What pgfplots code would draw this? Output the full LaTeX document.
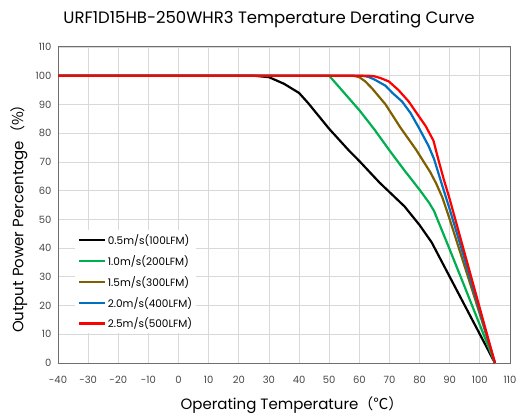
\documentclass[border=0pt]{standalone}
\usepackage{pgfplots}
\pgfplotsset{compat=1.18}
\usepackage{fontspec}
\setmainfont{Poppins}
\newfontfamily\cjk{Noto Sans CJK SC}
\definecolor{cgreen}{RGB}{0,176,80}
\definecolor{cbrown}{RGB}{127,96,0}
\definecolor{cblue}{RGB}{0,112,192}
\definecolor{cred}{RGB}{255,0,0}
\definecolor{gridgray}{RGB}{217,217,217}
\definecolor{axisgray}{RGB}{110,110,110}
\definecolor{labelgray}{RGB}{70,70,70}
\begin{document}
\begin{tikzpicture}
\useasboundingbox (0pt,0pt) rectangle (522pt,418pt);
\begin{axis}[
  at={(58pt,55pt)}, anchor=south west,
  scale only axis, width=452pt, height=316pt,
  xmin=-40, xmax=110, ymin=0, ymax=110,
  xtick={-40,-30,...,110}, ytick={0,10,...,110},
  grid=major, grid style={color=gridgray, line width=0.8pt},
  axis line style={color=axisgray, line width=1pt},
  major tick length=0pt,
  tick label style={font=\fontsize{10}{12}\selectfont, text=labelgray},
  xticklabel style={yshift=-10pt},
  yticklabel style={xshift=-3pt},
  /pgf/number format/assume math mode=true,
  legend cell align=left,
  legend style={at={(0.038,0.42)}, anchor=north west, draw=none, fill=white,
    font=\fontsize{10.5}{12}\selectfont, row sep=5.5pt, inner sep=2pt},
  legend image code/.code={\draw[#1, line width=2.5pt] (0pt,0pt) -- (26pt,0pt);},
  every axis plot/.append style={line width=2.2pt, line join=round},
]
\addplot[black] coordinates {(-40,100)(25,100)(30,99.5)(35,97.2)(40,94)(43,90.5)(50,81.5)(56.6,73.9)(60,70.3)(66.7,62.8)(70,59.5)(75,54.5)(80,48)(84,42)(86,38)(90,30)(95,20)(100,10)(105,0)};
\addlegendentry{0.5m/s(100LFM)}
\addplot[cgreen] coordinates {(-40,100)(50,100)(55,94)(60,88)(65,81.3)(70,74)(75,67)(80,60.3)(83.2,55.7)(84.8,52.9)(90,39.5)(95,26.4)(100,13.2)(105,0)};
\addlegendentry{1.0m/s(200LFM)}
\addplot[cbrown] coordinates {(-40,100)(58,100)(60,99.5)(62,98)(64.3,95.5)(68.7,90)(73.6,82)(78.8,74.3)(83.5,66.5)(85.5,62.5)(87.6,57.5)(90,50)(95,33.5)(100,17)(105,0)};
\addlegendentry{1.5m/s(300LFM)}
\addplot[cblue] coordinates {(-40,100)(61,100)(63,99.6)(65,98.7)(68.7,96.5)(71,94)(74.2,91)(77,87)(79.7,82)(83,75.5)(84.8,71)(87,63.5)(90,53.5)(95,36)(100,18)(105,0)};
\addlegendentry{2.0m/s(400LFM)}
\addplot[cred] coordinates {(-40,100)(63,100)(65,99.8)(67,99.2)(69.8,98)(73,95)(76.4,91)(80,85.5)(82,82.5)(84.6,77.4)(86.3,70.5)(88,64)(90,57)(95,38)(100,19)(105,0)};
\addlegendentry{2.5m/s(500LFM)}
\end{axis}
\node[font=\fontsize{16.5}{19}\selectfont] at (269pt,399pt) {URF1D15HB-250WHR3 Temperature Derating Curve};
\node[font=\fontsize{15}{17}\selectfont] at (292pt,13pt) {Operating Temperature{\cjk （℃）}};
\node[font=\fontsize{15}{17}\selectfont, rotate=90] at (19pt,203pt) {Output Power Percentage{\cjk （\%）}};
\end{tikzpicture}
\end{document}
